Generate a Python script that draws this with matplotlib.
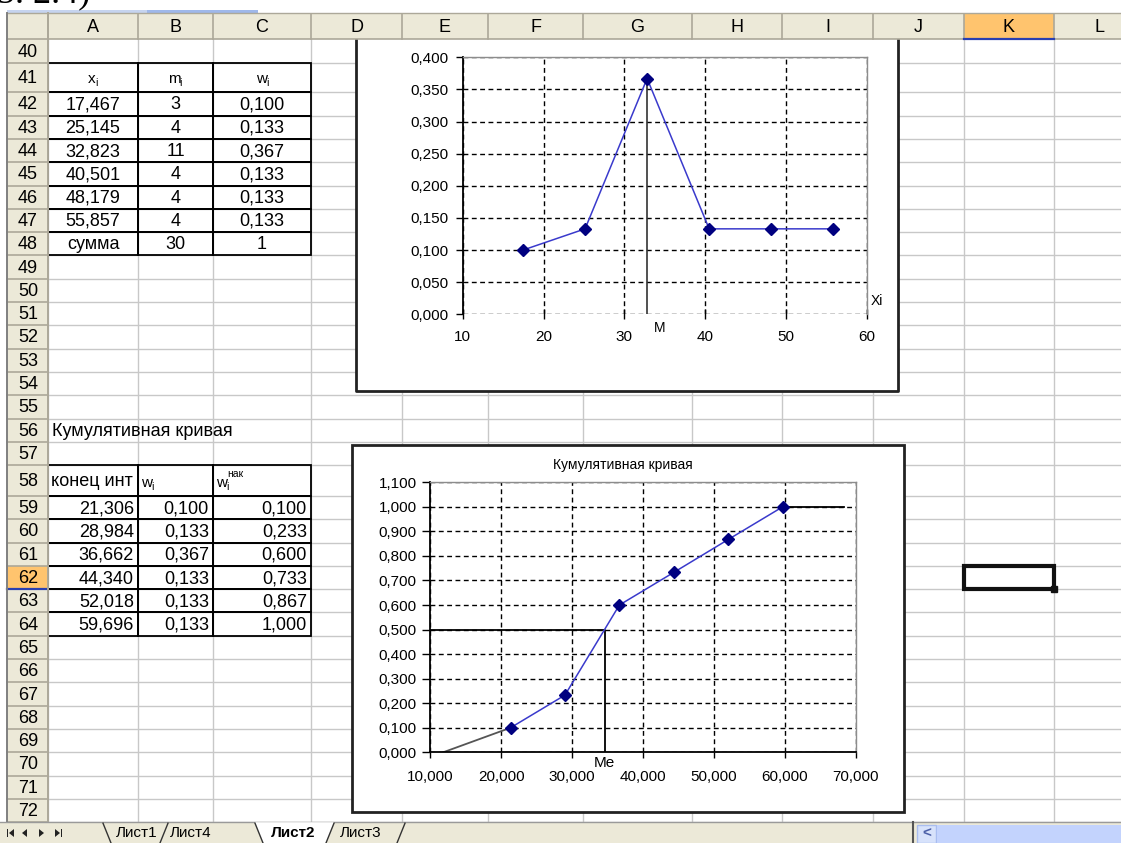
import matplotlib
matplotlib.use('Agg')
import matplotlib.pyplot as plt
from matplotlib.patches import Rectangle, Polygon
from matplotlib.ticker import FuncFormatter, MultipleLocator

plt.rcParams['font.family'] = ['Liberation Sans', 'DejaVu Sans']

W, H = 1121, 843

# интервальный ряд
xi = [17.467, 25.145, 32.823, 40.501, 48.179, 55.857]
mi = [3, 4, 11, 4, 4, 4]
wi = [0.100, 0.133, 0.367, 0.133, 0.133, 0.133]
sum_m = 30
sum_w = 1

# кумулятивная кривая
x_end = [21.306, 28.984, 36.662, 44.340, 52.018, 59.696]
w_int = [0.100, 0.133, 0.367, 0.133, 0.133, 0.133]
w_cum = [0.100, 0.233, 0.600, 0.733, 0.867, 1.000]
curve_start = 11.8   # начало кривой на оси
curve_tail = 68.3    # продолжение после 1,000
mode_x = 32.823
median_x = 34.57

col_names = list('ABCDEFGHIJKL')
col_edges = [48, 138, 213, 311, 402, 488, 583, 692, 782, 873, 964, 1054, 1145]
row_nums = list(range(40, 73))
row_heights = {40: 24, 41: 29, 58: 30.9}

# границы строк
row_top = {}
y = 39.3
for r in row_nums:
    row_top[r] = y
    y += row_heights.get(r, 23.3)
row_bottom = {r: row_top[r] + row_heights.get(r, 23.3) for r in row_nums}
grid_bottom = row_bottom[72]

CELL_FS = 13
CHART_FS = 11
BEIGE = '#ece9d8'
HDR_LINE = '#aca899'
SEL = '#ffc46e'


def num(v, d=3):
    return f'{v:.{d}f}'.replace('.', ',')


def frac(x0, y0, x1, y1):
    return [x0 / W, 1 - y1 / H, (x1 - x0) / W, (y1 - y0) / H]


fig = plt.figure(figsize=(W / 100, H / 100), dpi=100)
bg = fig.add_axes([0, 0, 1, 1])
bg.set_xlim(0, W)
bg.set_ylim(H, 0)
bg.axis('off')

# обрезанная подпись сверху
bg.text(-3, 2.5, '5. 2.4)', fontsize=26, family='Liberation Serif',
        va='baseline', ha='left', color='black')
bg.add_patch(Rectangle((7, 10), 140, 2.5, color='#c6d4ef', lw=0))
bg.add_patch(Rectangle((147, 10), 111, 2.5, color='#9fb8ea', lw=0))

# сетка ячеек
for xe in col_edges:
    bg.plot([xe, xe], [39.3, grid_bottom], color='#c8c8c8', lw=1, zorder=1)
for r in row_nums:
    yb = row_bottom[r]
    bg.plot([48, W], [yb, yb], color='#c8c8c8', lw=1, zorder=1)

# области диаграмм
bg.add_patch(Rectangle((356, 30), 542, 361, facecolor='white', edgecolor='none', zorder=2))
bg.plot([356, 356, 898, 898], [30, 391, 391, 30], color='#222222', lw=2, zorder=2.1)
bg.add_patch(Rectangle((352, 445), 552, 367, facecolor='white', edgecolor='#222222',
                       lw=2, zorder=2))

# заголовки столбцов
bg.add_patch(Rectangle((7, 13.3), W - 7, 26, facecolor=BEIGE, edgecolor='none', zorder=3))
k = col_names.index('K')
bg.add_patch(Rectangle((col_edges[k], 13.3), col_edges[k + 1] - col_edges[k], 26,
                       facecolor=SEL, edgecolor='none', zorder=3.1))
bg.plot([col_edges[k], col_edges[k + 1]], [38.5, 38.5], color='#2a3fb0', lw=1.6, zorder=3.3)
for xe in col_edges:
    bg.plot([xe, xe], [14, 39], color=HDR_LINE, lw=1.2, zorder=3.2)
bg.plot([7, W], [39.3, 39.3], color=HDR_LINE, lw=1.2, zorder=3.2)
bg.plot([7, W], [13.3, 13.3], color=HDR_LINE, lw=1, zorder=3.2)
for i, name in enumerate(col_names):
    bg.text((col_edges[i] + col_edges[i + 1]) / 2, 27, name, fontsize=CELL_FS,
            ha='center', va='center', zorder=4)

# номера строк
bg.add_patch(Rectangle((7, 39.3), 41, grid_bottom - 39.3, facecolor=BEIGE,
                       edgecolor='none', zorder=3))
bg.add_patch(Rectangle((7, row_top[62]), 41, row_bottom[62] - row_top[62],
                       facecolor=SEL, edgecolor='none', zorder=3.1))
bg.plot([7, 48], [row_bottom[62], row_bottom[62]], color='#2a3fb0', lw=1.6, zorder=3.3)
for r in row_nums:
    bg.plot([7, 48], [row_bottom[r], row_bottom[r]], color=HDR_LINE, lw=1.2, zorder=3.2)
    bg.text(28, (row_top[r] + row_bottom[r]) / 2 + 1, str(r), fontsize=CELL_FS,
            ha='center', va='center', zorder=4)
bg.plot([48, 48], [13.3, grid_bottom], color=HDR_LINE, lw=1.4, zorder=3.3)
bg.plot([7, 7], [13.3, grid_bottom], color='#808080', lw=1.4, zorder=3.3)


def cell_box(c0, c1, r0, r1):
    for r in range(r0, r1 + 1):
        for c in range(c0, c1 + 1):
            bg.add_patch(Rectangle((col_edges[c], row_top[r]),
                                   col_edges[c + 1] - col_edges[c],
                                   row_bottom[r] - row_top[r],
                                   facecolor='none', edgecolor='black', lw=1.3, zorder=2.5))


def cell_text(c, r, s, ha='center', **kw):
    yc = (row_top[r] + row_bottom[r]) / 2 + 1
    if ha == 'center':
        xc = (col_edges[c] + col_edges[c + 1]) / 2
    elif ha == 'right':
        xc = col_edges[c + 1] - 4
    else:
        xc = col_edges[c] + 3
    bg.text(xc, yc, s, fontsize=CELL_FS, ha=ha, va='center', zorder=4, **kw)


def sub_label(x, y, base, sub, dx, sup=None):
    bg.text(x, y, base, fontsize=11, ha='left', va='baseline', zorder=4)
    bg.text(x + dx, y + 3, sub, fontsize=7.5, ha='left', va='baseline', zorder=4)
    if sup:
        bg.text(x + dx + 1, y - 10, sup, fontsize=7.5, ha='left', va='baseline', zorder=4)


# таблица частот
cell_box(0, 2, 41, 48)
sub_label(88, 83, 'x', 'i', 7)
sub_label(168, 83, 'm', 'i', 11)
sub_label(256, 83, 'w', 'i', 10)
for j in range(len(xi)):
    r = 42 + j
    cell_text(0, r, num(xi[j]))
    cell_text(1, r, str(mi[j]))
    cell_text(2, r, num(wi[j]))
cell_text(0, 48, 'сумма')
cell_text(1, 48, str(sum_m))
cell_text(2, 48, str(sum_w))

# таблица накопленных частот
bg.text(52, (row_top[56] + row_bottom[56]) / 2 + 1, 'Кумулятивная кривая',
        fontsize=CELL_FS, ha='left', va='center', zorder=4)
cell_box(0, 2, 58, 64)
cell_text(0, 58, 'конец инт', ha='left')
sub_label(141, 487, 'w', 'i', 10)
sub_label(216, 487, 'w', 'i', 10, 'нак')
for j in range(len(x_end)):
    r = 59 + j
    cell_text(0, r, num(x_end[j]), ha='right')
    cell_text(1, r, num(w_int[j]), ha='right')
    cell_text(2, r, num(w_cum[j]), ha='right')

# выделенная ячейка K62
bg.add_patch(Rectangle((col_edges[k], row_top[62]), col_edges[k + 1] - col_edges[k],
                       row_bottom[62] - row_top[62], facecolor='none',
                       edgecolor='#111111', lw=3, zorder=5))
bg.add_patch(Rectangle((col_edges[k + 1] - 3, row_bottom[62] - 3), 6, 6,
                       color='#111111', zorder=5.1))

# панель листов
bg.add_patch(Rectangle((0, grid_bottom), W, H - grid_bottom, facecolor=BEIGE,
                       edgecolor='none', zorder=6))
bg.plot([0, W], [grid_bottom, grid_bottom], color='#9a9a9a', lw=1, zorder=6.1)
ty = 833
arrow = dict(color='#222222', zorder=6.5, lw=0)
bg.add_patch(Polygon([[9, ty], [14, ty - 4], [14, ty + 4]], **arrow))
bg.add_patch(Rectangle((6.5, ty - 4), 1.6, 8, **arrow))
bg.add_patch(Polygon([[22, ty], [27, ty - 4], [27, ty + 4]], **arrow))
bg.add_patch(Polygon([[44, ty], [39, ty - 4], [39, ty + 4]], **arrow))
bg.add_patch(Polygon([[60, ty], [55, ty - 4], [55, ty + 4]], **arrow))
bg.add_patch(Rectangle((60.5, ty - 4), 1.6, 8, **arrow))
bg.add_patch(Polygon([[255, grid_bottom], [263, H], [326, H], [334, grid_bottom]],
                     facecolor='white', edgecolor='none', zorder=6.2))
tab_lines = [(103, 111), (168, 160), (255, 263), (334, 326), (405, 397)]
for xa, xb in tab_lines:
    bg.plot([xa, xb], [grid_bottom + 1, H], color='#333333', lw=1, zorder=6.3)
tabs = [('Лист1', 137, 'normal'), ('Лист4', 191, 'normal'),
        ('Лист2', 293, 'bold'), ('Лист3', 361, 'normal')]
for name, xc, wgt in tabs:
    bg.text(xc, 833, name, fontsize=11, fontweight=wgt, ha='center', va='center',
            zorder=6.5)
bg.plot([913, 913], [grid_bottom, H], color='#555555', lw=1.5, zorder=6.3)
bg.add_patch(Rectangle((917, 825), 19, 18, facecolor='#d7e2fb', edgecolor='#a9bdf0',
                       lw=1, zorder=6.3))
bg.text(926.5, 834, '<', fontsize=11, fontweight='bold', color='#4d61a8',
        ha='center', va='center', zorder=6.5)
bg.add_patch(Rectangle((937, 825), W - 937, 18, facecolor='#c3d3fd', edgecolor='none',
                       zorder=6.3))

DASH = (0, (3.5, 2.5))
LINE_BLUE = '#3a3acc'
NAVY = '#000080'

# полигон относительных частот
ax1 = fig.add_axes(frac(462.7, 57.3, 866.7, 314.3))
ax1.patch.set_alpha(0)
ax1.set_xlim(10, 60)
ax1.set_ylim(0, 0.4)
ax1.xaxis.set_major_locator(MultipleLocator(10))
ax1.yaxis.set_major_locator(MultipleLocator(0.05))
ax1.yaxis.set_major_formatter(FuncFormatter(lambda v, p: num(v)))
ax1.xaxis.set_major_formatter(FuncFormatter(lambda v, p: f'{v:.0f}'))
for s in ['top', 'right']:
    ax1.spines[s].set_color('#8c8c8c')
    ax1.spines[s].set_linewidth(1)
ax1.spines['bottom'].set_visible(False)
ax1.spines['left'].set_color('black')
ax1.spines['left'].set_linewidth(1.3)
for v in ax1.get_yticks()[:-1]:
    ax1.axhline(v, color='black', lw=1, ls=DASH, zorder=1)
for v in ax1.get_xticks()[1:-1]:
    ax1.axvline(v, color='black', lw=1, ls=DASH, zorder=1)
ax1.tick_params(axis='y', direction='out', length=5, width=1, pad=5, labelsize=CHART_FS)
ax1.tick_params(axis='x', direction='inout', length=7, width=1, pad=8, labelsize=CHART_FS)
ax1.plot([mode_x, mode_x], [0, max(wi)], color='#333333', lw=1.2, zorder=2)
ax1.plot(xi, wi, color=LINE_BLUE, lw=1.1, marker='D', ms=6.5, mfc=NAVY, mec=NAVY, zorder=3)
ax1.annotate('M', xy=(mode_x, 0), xytext=(13, -14), textcoords='offset pixels',
             fontsize=10, ha='center', va='center')
ax1.annotate('Xi', xy=(60, 0), xytext=(10, 13), textcoords='offset pixels',
             fontsize=10, ha='center', va='center')

# кумулятивная кривая
ax2 = fig.add_axes(frac(430.4, 482.3, 855.7, 752.3))
ax2.patch.set_alpha(0)
ax2.set_xlim(10, 70)
ax2.set_ylim(0, 1.1)
ax2.xaxis.set_major_locator(MultipleLocator(10))
ax2.yaxis.set_major_locator(MultipleLocator(0.1))
ax2.yaxis.set_major_formatter(FuncFormatter(lambda v, p: num(v)))
ax2.xaxis.set_major_formatter(FuncFormatter(lambda v, p: num(v)))
for s in ['top', 'right']:
    ax2.spines[s].set_color('#8c8c8c')
    ax2.spines[s].set_linewidth(1)
for s in ['bottom', 'left']:
    ax2.spines[s].set_color('black')
    ax2.spines[s].set_linewidth(1.3)
for v in ax2.get_yticks()[1:-1]:
    ax2.axhline(v, color='black', lw=1, ls=DASH, zorder=1)
for v in ax2.get_xticks()[1:-1]:
    ax2.axvline(v, color='black', lw=1, ls=DASH, zorder=1)
ax2.tick_params(axis='y', direction='out', length=6, width=1, pad=4, labelsize=CHART_FS)
ax2.tick_params(axis='x', direction='out', length=4, width=1, pad=9, labelsize=CHART_FS)
ax2.plot([curve_start, x_end[0]], [0, w_cum[0]], color='#555555', lw=1.3, zorder=2)
ax2.plot([x_end[-1], curve_tail], [w_cum[-1], w_cum[-1]], color='black', lw=1.3, zorder=2)
ax2.plot([10, median_x, median_x], [0.5, 0.5, 0], color='black', lw=1.3, zorder=2)
ax2.plot(x_end, w_cum, color=LINE_BLUE, lw=1.1, marker='D', ms=6.5, mfc=NAVY, mec=NAVY,
         zorder=3)
ax2.annotate('Me', xy=(median_x, 0), xytext=(0, -11), textcoords='offset pixels',
             fontsize=CHART_FS, ha='center', va='center')
bg.text(623, 465, 'Кумулятивная кривая', fontsize=10, ha='center', va='center', zorder=4)

fig.savefig('out.png', dpi=100)
